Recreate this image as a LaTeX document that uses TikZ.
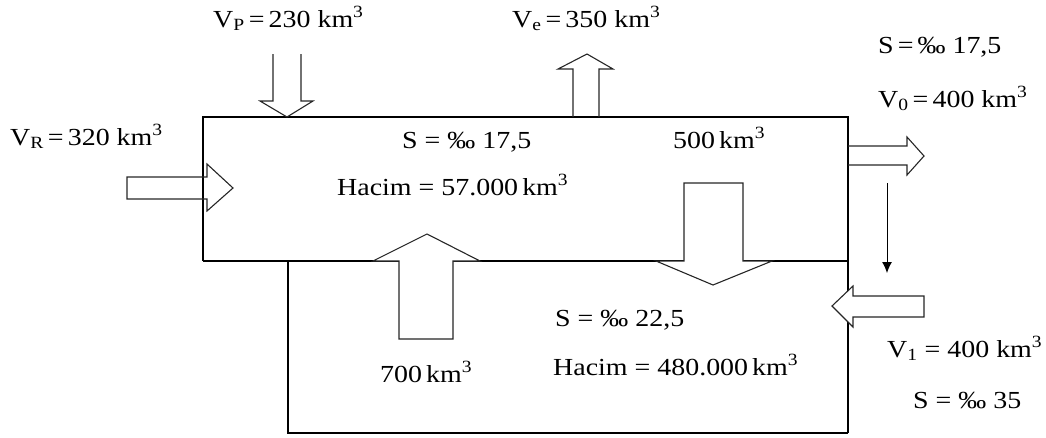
\documentclass[tikz,border=0pt]{standalone}
\usepackage{fontspec}
\setmainfont{Liberation Serif}[FakeStretch=1.14]
\usetikzlibrary{arrows.meta}

\tikzset{
  havza/.style={line width=1.1pt},
  blokok/.style={draw=black!85, line width=1.1pt, line join=miter},
  blokdolu/.style={blokok, fill=white},
  etiket/.style={anchor=base west, inner sep=0pt, font=\fontsize{24.5}{28}\selectfont},
}

\begin{document}
\begin{tikzpicture}[x=1pt,y=-1pt]
    \useasboundingbox (0,0) rectangle (1046,437);

    % Üst tabaka ve alt tabaka
    \draw[havza] (203,261) -- (203,117) -- (848,117) -- (848,433);
    \draw[havza] (203,261) -- (848,261);
    \draw[havza] (288,261) -- (288,433) -- (848,433);

    % Nehir girdisi
    \draw[blokok] (127,177) -- (207,177) -- (207,164) -- (233,188) -- (207,211) -- (207,199) -- (127,199) -- cycle;
    % Yağış
    \draw[blokok] (273,54) -- (273,101) -- (260,101) -- (287,117) -- (313,101) -- (301,101) -- (301,54);
    % Buharlaşma
    \draw[blokok] (573,117) -- (573,69) -- (558,69) -- (587,54) -- (613,69) -- (599,69) -- (599,117);
    % Çıkış
    \draw[blokok] (848,146) -- (907,146) -- (907,137) -- (924,156) -- (907,175) -- (907,165) -- (848,165);
    % Giriş
    \draw[blokdolu] (924,296) -- (853,296) -- (853,286) -- (832,306) -- (853,327) -- (853,317) -- (924,317) -- cycle;

    % Tabakalar arası akış
    \draw[blokdolu] (399,339) -- (399,261) -- (373,261) -- (427,234) -- (480,261) -- (453,261) -- (453,339) -- cycle;
    \draw[blokdolu] (684,183) -- (743,183) -- (743,261) -- (772,261) -- (713,285) -- (656,261) -- (684,261) -- cycle;

    % İnce ok
    \coordinate (okbas) at (887,183);
    \coordinate (okuc) at (887,273);
    \draw[-{Latex[length=11pt,width=10pt]}, line width=1pt] (okbas) -- (okuc);

    % Etiketler
    \node[etiket] (vp) at (213,27) {V\textsubscript{P}\,=\,230 km\textsuperscript{3}};
    \node[etiket] (ve) at (512,27) {V\textsubscript{e}\,=\,350 km\textsuperscript{3}};
    \node[etiket] (scikis) at (878,53) {S\,=\,‰ 17,5};
    \node[etiket] (vsifir) at (878,107) {V\textsubscript{0}\,=\,400 km\textsuperscript{3}};
    \node[etiket] (vr) at (10,145) {V\textsubscript{R}\,=\,320 km\textsuperscript{3}};
    \node[etiket] (sust) at (402,148) {S = ‰ 17,5};
    \node[etiket] (akisust) at (673,148) {500\,km\textsuperscript{3}};
    \node[etiket] (hust) at (337,195) {Hacim = 57.000\,km\textsuperscript{3}};
    \node[etiket] (salt) at (555,326) {S = ‰ 22,5};
    \node[etiket] (halt) at (553,375) {Hacim = 480.000\,km\textsuperscript{3}};
    \node[etiket] (akisalt) at (380,382) {700\,km\textsuperscript{3}};
    \node[etiket] (vbir) at (887,357) {V\textsubscript{1} = 400 km\textsuperscript{3}};
    \node[etiket] (sgiris) at (913,408) {S = ‰ 35};
\end{tikzpicture}
\end{document}
